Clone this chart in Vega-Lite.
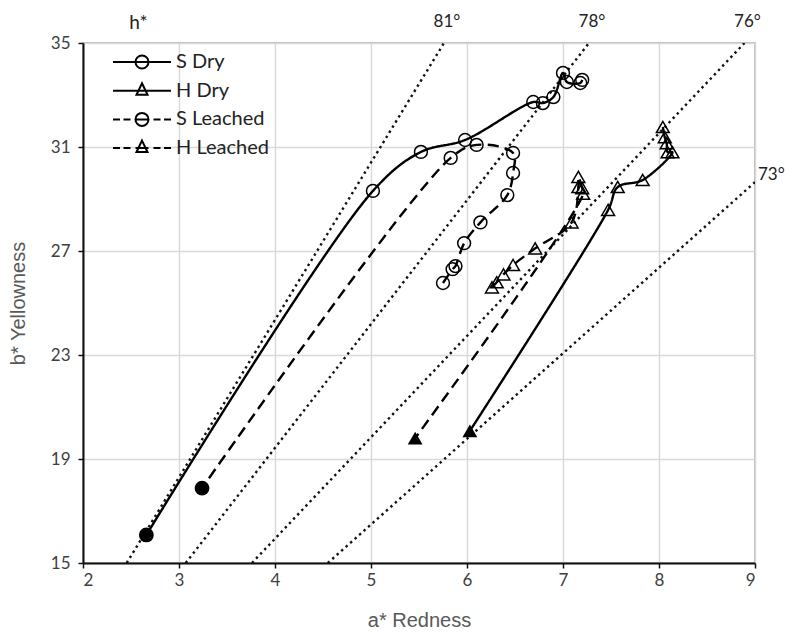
{
  "$schema": "https://vega.github.io/schema/vega-lite/v6.json",
  "width": 672,
  "height": 520,
  "autosize": {"type": "none"},
  "padding": {"left": 83, "top": 43, "right": 38, "bottom": 72},
  "background": "white",
  "title": {"text": "h*", "anchor": "start", "dx": 121, "dy": 20, "offset": 0, "font": "Lato", "fontSize": 19, "fontWeight": "normal", "color": "#222222"},
  "config": {
    "view": {"stroke": "#a6a6a6", "strokeWidth": 1.5},
    "axis": {
      "domainColor": "#111111", "domainWidth": 2, "tickColor": "#111111", "tickWidth": 1.5, "tickSize": 5,
      "gridColor": "#d9d9d9", "gridWidth": 1.5,
      "labelFont": "Lato", "labelFontSize": 17, "labelColor": "#404040",
      "titleFont": "Liberation Sans", "titleFontSize": 20, "titleFontWeight": "normal", "titleColor": "#595959"
    }
  },
  "datasets": {
    "hue": [
      {"hue": "81°", "a1": 2.455, "b1": 15, "a2": 5.76, "b2": 35},
      {"hue": "78°", "a1": 3.07, "b1": 15, "a2": 7.27, "b2": 35},
      {"hue": "76°", "a1": 3.76, "b1": 15, "a2": 8.89, "b2": 35},
      {"hue": "73°", "a1": 4.55, "b1": 15, "a2": 9.0, "b2": 29.65}
    ],
    "pts": [
      {"series": "S Dry", "ord": 1, "a": 7.2, "b": 33.58, "end": false},
      {"series": "S Dry", "ord": 2, "a": 7.18, "b": 33.46, "end": false},
      {"series": "S Dry", "ord": 3, "a": 7.04, "b": 33.5, "end": false},
      {"series": "S Dry", "ord": 4, "a": 7.0, "b": 33.85, "end": false},
      {"series": "S Dry", "ord": 5, "a": 6.9, "b": 32.92, "end": false},
      {"series": "S Dry", "ord": 6, "a": 6.79, "b": 32.69, "end": false},
      {"series": "S Dry", "ord": 7, "a": 6.69, "b": 32.73, "end": false},
      {"series": "S Dry", "ord": 8, "a": 5.98, "b": 31.27, "end": false},
      {"series": "S Dry", "ord": 9, "a": 5.52, "b": 30.81, "end": false},
      {"series": "S Dry", "ord": 10, "a": 5.02, "b": 29.31, "end": false},
      {"series": "S Dry", "ord": 11, "a": 2.66, "b": 16.08, "end": true},
      {"series": "S Leached", "ord": 1, "a": 5.75, "b": 25.77, "end": false},
      {"series": "S Leached", "ord": 2, "a": 5.85, "b": 26.3, "end": false},
      {"series": "S Leached", "ord": 3, "a": 5.88, "b": 26.42, "end": false},
      {"series": "S Leached", "ord": 4, "a": 5.97, "b": 27.3, "end": false},
      {"series": "S Leached", "ord": 5, "a": 6.14, "b": 28.1, "end": false},
      {"series": "S Leached", "ord": 6, "a": 6.42, "b": 29.15, "end": false},
      {"series": "S Leached", "ord": 7, "a": 6.48, "b": 30.0, "end": false},
      {"series": "S Leached", "ord": 8, "a": 6.48, "b": 30.77, "end": false},
      {"series": "S Leached", "ord": 9, "a": 6.1, "b": 31.08, "end": false},
      {"series": "S Leached", "ord": 10, "a": 5.83, "b": 30.58, "end": false},
      {"series": "S Leached", "ord": 11, "a": 3.24, "b": 17.88, "end": true},
      {"series": "H Dry", "ord": 1, "a": 8.04, "b": 31.77, "end": false},
      {"series": "H Dry", "ord": 2, "a": 8.06, "b": 31.38, "end": false},
      {"series": "H Dry", "ord": 3, "a": 8.08, "b": 31.15, "end": false},
      {"series": "H Dry", "ord": 4, "a": 8.09, "b": 30.8, "end": false},
      {"series": "H Dry", "ord": 5, "a": 8.14, "b": 30.8, "end": false},
      {"series": "H Dry", "ord": 6, "a": 7.83, "b": 29.73, "end": false},
      {"series": "H Dry", "ord": 7, "a": 7.57, "b": 29.46, "end": false},
      {"series": "H Dry", "ord": 8, "a": 7.47, "b": 28.58, "end": false},
      {"series": "H Dry", "ord": 9, "a": 6.03, "b": 20.08, "end": true},
      {"series": "H Leached", "ord": 1, "a": 6.26, "b": 25.6, "end": false},
      {"series": "H Leached", "ord": 2, "a": 6.31, "b": 25.8, "end": false},
      {"series": "H Leached", "ord": 3, "a": 6.38, "b": 26.1, "end": false},
      {"series": "H Leached", "ord": 4, "a": 6.48, "b": 26.46, "end": false},
      {"series": "H Leached", "ord": 5, "a": 6.71, "b": 27.1, "end": false},
      {"series": "H Leached", "ord": 6, "a": 7.09, "b": 28.1, "end": false},
      {"series": "H Leached", "ord": 7, "a": 7.16, "b": 29.46, "end": false},
      {"series": "H Leached", "ord": 8, "a": 7.16, "b": 29.85, "end": false},
      {"series": "H Leached", "ord": 9, "a": 7.2, "b": 29.42, "end": false},
      {"series": "H Leached", "ord": 10, "a": 7.21, "b": 29.2, "end": false},
      {"series": "H Leached", "ord": 11, "a": 5.46, "b": 19.8, "end": true}
    ]
  },
  "layer": [
    {
      "data": {"name": "hue"},
      "mark": {"type": "rule", "color": "#111111", "strokeWidth": 2.4, "strokeDash": [2.4, 3.6], "clip": true},
      "encoding": {
        "x": {"field": "a1", "type": "quantitative", "scale": {"domain": [2, 9], "nice": false, "zero": false}, "axis": {"values": [2, 3, 4, 5, 6, 7, 8, 9], "format": "d", "title": "a* Redness", "titlePadding": 22, "labelPadding": 4}},
        "y": {"field": "b1", "type": "quantitative", "scale": {"domain": [15, 35], "nice": false, "zero": false}, "axis": {"values": [15, 19, 23, 27, 31, 35], "format": "d", "title": "b* Yellowness", "titlePadding": 22, "labelPadding": 8}},
        "x2": {"field": "a2"},
        "y2": {"field": "b2"}
      }
    },
    {
      "data": {"name": "hue"},
      "transform": [{"filter": "datum.b2 >= 35"}],
      "mark": {"type": "text", "dy": -21, "dx": 3, "font": "Lato", "fontSize": 17, "color": "#222222", "clip": false},
      "encoding": {
        "x": {"field": "a2", "type": "quantitative", "title": "a* Redness"},
        "y": {"field": "b2", "type": "quantitative", "title": "b* Yellowness"},
        "text": {"field": "hue"}
      }
    },
    {
      "data": {"name": "hue"},
      "transform": [{"filter": "datum.b2 < 35"}],
      "mark": {"type": "text", "dy": -7, "dx": 3, "align": "left", "font": "Lato", "fontSize": 17, "color": "#222222", "clip": false},
      "encoding": {
        "x": {"field": "a2", "type": "quantitative", "title": "a* Redness"},
        "y": {"field": "b2", "type": "quantitative", "title": "b* Yellowness"},
        "text": {"field": "hue"}
      }
    },
    {
      "data": {"name": "pts"},
      "mark": {"type": "line", "color": "#000000", "strokeWidth": 2.4, "interpolate": "catmull-rom"},
      "encoding": {
        "x": {"field": "a", "type": "quantitative", "title": "a* Redness"},
        "y": {"field": "b", "type": "quantitative", "title": "b* Yellowness"},
        "detail": {"field": "series"},
        "order": {"field": "ord", "type": "quantitative"},
        "strokeDash": {"field": "series", "type": "nominal", "scale": {"domain": ["S Dry", "H Dry", "S Leached", "H Leached"], "range": [[1, 0], [1, 0], [11, 6], [11, 6]]}, "legend": null}
      }
    },
    {
      "data": {"name": "pts"},
      "transform": [{"filter": "!datum.end"}],
      "mark": {"type": "point", "filled": false, "color": "#000000", "strokeWidth": 1.5, "size": 165, "opacity": 1},
      "encoding": {
        "x": {"field": "a", "type": "quantitative", "title": "a* Redness"},
        "y": {"field": "b", "type": "quantitative", "title": "b* Yellowness"},
        "shape": {"field": "series", "type": "nominal", "scale": {"domain": ["S Dry", "H Dry", "S Leached", "H Leached"], "range": ["circle", "triangle-up", "circle", "triangle-up"]}, "legend": null}
      }
    },
    {
      "data": {"name": "pts"},
      "transform": [{"filter": "datum.end"}],
      "mark": {"type": "point", "filled": true, "color": "#000000", "size": 220, "opacity": 1},
      "encoding": {
        "x": {"field": "a", "type": "quantitative", "title": "a* Redness"},
        "y": {"field": "b", "type": "quantitative", "title": "b* Yellowness"},
        "shape": {"field": "series", "type": "nominal", "scale": {"domain": ["S Dry", "H Dry", "S Leached", "H Leached"], "range": ["circle", "triangle-up", "circle", "triangle-up"]}, "legend": null}
      }
    },
    {
      "data": {"name": "pts"},
      "mark": {"type": "point", "filled": false, "color": "#000000", "strokeWidth": 2, "opacity": 0},
      "encoding": {
        "x": {"field": "a", "type": "quantitative", "title": "a* Redness"},
        "y": {"field": "b", "type": "quantitative", "title": "b* Yellowness"},
        "shape": {
          "field": "series", "type": "nominal",
          "scale": {
            "domain": ["S Dry", "H Dry", "S Leached", "H Leached"],
            "range": [
              "M 0 -1 M 0 1 M -2.9 0 L 2.9 0 M -0.65 0 A 0.65 0.65 0 1 1 0.65 0 A 0.65 0.65 0 1 1 -0.65 0",
              "M 0 -1 M 0 1 M -2.9 0 L 2.9 0 M 0 -0.75 L 0.55 0.4 L -0.55 0.4 Z",
              "M 0 -1 M 0 1 M -2.9 0 L -2.2 0 M -1.85 0 L -1.15 0 M -0.65 0 L 0.65 0 M 1.15 0 L 1.85 0 M 2.2 0 L 2.9 0 M -0.65 0 A 0.65 0.65 0 1 1 0.65 0 A 0.65 0.65 0 1 1 -0.65 0",
              "M 0 -1 M 0 1 M -2.9 0 L -2.2 0 M -1.85 0 L -1.15 0 M -0.65 0 L 0.65 0 M 1.15 0 L 1.85 0 M 2.2 0 L 2.9 0 M 0 -0.75 L 0.55 0.4 L -0.55 0.4 Z"
            ]
          },
          "legend": {
            "orient": "none", "legendX": 48, "legendY": 8, "title": null, "padding": 0,
            "symbolSize": 400, "symbolOpacity": 1, "symbolStrokeColor": "#000000", "symbolFillColor": "transparent", "symbolStrokeWidth": 2,
            "labelFont": "Lato", "labelFontSize": 20, "labelColor": "#222222", "labelOffset": 23, "rowPadding": 0.7
          }
        }
      }
    }
  ],
  "resolve": {"scale": {"shape": "independent", "strokeDash": "independent"}}
}
